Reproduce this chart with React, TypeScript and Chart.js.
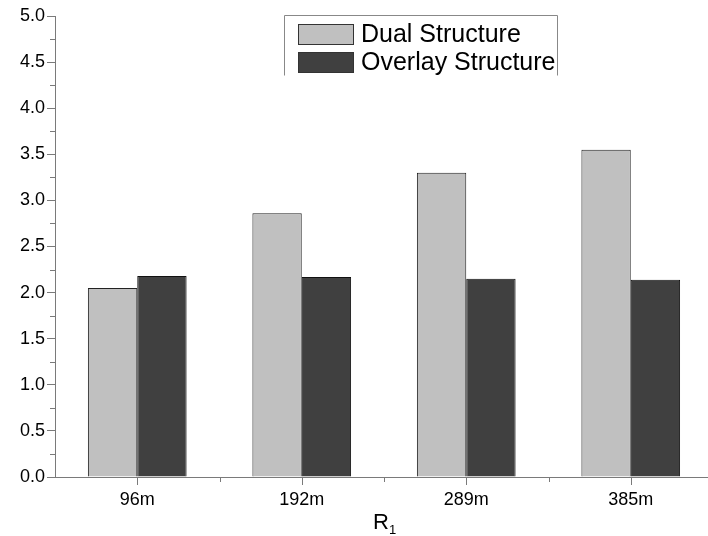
import React, { useEffect, useRef } from "react";
import { Chart, registerables } from "chart.js";

Chart.register(...registerables);

const categories = ["96m", "192m", "289m", "385m"];
const seriesNames = ["Dual Structure", "Overlay Structure"];
const dualValues = [2.05, 2.86, 3.3, 3.55];
const overlayValues = [2.18, 2.17, 2.15, 2.14];
const yMin = 0;
const yMax = 5;
const yStep = 0.5;
const xTitleMain = "R";
const xTitleSub = "1";

const FONT = "Arial, 'Liberation Sans', sans-serif";
const AXIS_COLOR = "#7a7a7a";
const DUAL_COLOR = "#c0c0c0";
const OVERLAY_COLOR = "#404040";

const decorPlugin = {
  id: "decor",
  afterDraw(chart: any) {
    const ctx = chart.ctx;
    const area = chart.chartArea;
    const xs = chart.scales.x;
    const ys = chart.scales.y;
    ctx.save();
    ctx.strokeStyle = AXIS_COLOR;
    ctx.lineWidth = 1;
    // y minor ticks
    for (let v = yMin + yStep / 2; v < yMax; v += yStep) {
      const y = Math.round(ys.getPixelForValue(v)) + 0.5;
      ctx.beginPath();
      ctx.moveTo(area.left - 5, y);
      ctx.lineTo(area.left, y);
      ctx.stroke();
    }
    // x major ticks at categories, minor at boundaries
    for (let i = 0; i < categories.length; i++) {
      const x = Math.round(xs.getPixelForValue(i)) + 0.5;
      ctx.beginPath();
      ctx.moveTo(x, area.bottom);
      ctx.lineTo(x, area.bottom + 8);
      ctx.stroke();
      if (i < categories.length - 1) {
        const xb = Math.round((xs.getPixelForValue(i) + xs.getPixelForValue(i + 1)) / 2) + 0.5;
        ctx.beginPath();
        ctx.moveTo(xb, area.bottom);
        ctx.lineTo(xb, area.bottom + 5);
        ctx.stroke();
      }
    }
    // x axis title R with subscript 1
    ctx.fillStyle = "#000";
    ctx.textBaseline = "alphabetic";
    ctx.font = `22px ${FONT}`;
    const cx = (area.left + area.right) / 2 - 3;
    const rW = ctx.measureText(xTitleMain).width;
    ctx.textAlign = "left";
    ctx.fillText(xTitleMain, cx - rW / 2, area.bottom + 52);
    ctx.font = `13px ${FONT}`;
    ctx.fillText(xTitleSub, cx + rW / 2, area.bottom + 57);

    // legend box
    const bx = 284.5, by = 15.5, bw = 273, bh = 60;
    ctx.strokeStyle = "#888";
    ctx.beginPath();
    ctx.moveTo(bx, by + bh);
    ctx.lineTo(bx, by);
    ctx.lineTo(bx + bw, by);
    ctx.lineTo(bx + bw, by + bh);
    ctx.stroke();
    const ds = chart.data.datasets;
    ctx.font = `25px ${FONT}`;
    ctx.textBaseline = "middle";
    for (let i = 0; i < ds.length; i++) {
      const sy = 24 + i * 28;
      ctx.fillStyle = ds[i].backgroundColor;
      ctx.fillRect(298, sy, 55, 20);
      ctx.strokeStyle = "#333";
      ctx.strokeRect(298.5, sy + 0.5, 55, 20);
      ctx.fillStyle = "#000";
      ctx.fillText(ds[i].label, 361, sy + 11);
    }
    ctx.restore();
  },
};

export default function App() {
  const ref = useRef<HTMLCanvasElement>(null);
  useEffect(() => {
    document.body.style.margin = "0";
    const chart = new Chart(ref.current!, {
      type: "bar",
      data: {
        labels: categories,
        datasets: [
          {
            label: seriesNames[0],
            data: dualValues,
            backgroundColor: DUAL_COLOR,
            borderColor: "#222",
            borderWidth: 1,
          },
          {
            label: seriesNames[1],
            data: overlayValues,
            backgroundColor: OVERLAY_COLOR,
            borderColor: "#111",
            borderWidth: 1,
          },
        ],
      },
      options: {
        responsive: false,
        animation: false,
        layout: { padding: { top: 16, right: 7, left: 0, bottom: 0 } },
        plugins: { legend: { display: false }, tooltip: { enabled: false } },
        datasets: { bar: { categoryPercentage: 0.6, barPercentage: 1.0 } },
        scales: {
          x: {
            grid: { display: false, drawTicks: false },
            border: { display: true, color: AXIS_COLOR, width: 1 },
            ticks: { color: "#000", font: { family: FONT, size: 18 }, padding: 12, maxRotation: 0 },
            afterFit: (s: any) => { s.height = 59; },
          },
          y: {
            min: yMin,
            max: yMax,
            grid: { display: true, drawOnChartArea: false, drawTicks: true, tickLength: 8, color: AXIS_COLOR },
            border: { display: true, color: AXIS_COLOR, width: 1 },
            ticks: {
              stepSize: yStep,
              color: "#000",
              font: { family: FONT, size: 18 },
              padding: 2,
              callback: (v: any) => Number(v).toFixed(1),
            },
            afterFit: (s: any) => { s.width = 55; },
          },
        },
      },
      plugins: [decorPlugin],
    });
    return () => chart.destroy();
  }, []);
  return (
    <div style={{ position: "fixed", left: 0, top: 0, width: 708, height: 536, overflow: "hidden", background: "#fff" }}>
      <canvas ref={ref} width={720} height={536} style={{ display: "block", width: 720, height: 536 }} />
    </div>
  );
}
